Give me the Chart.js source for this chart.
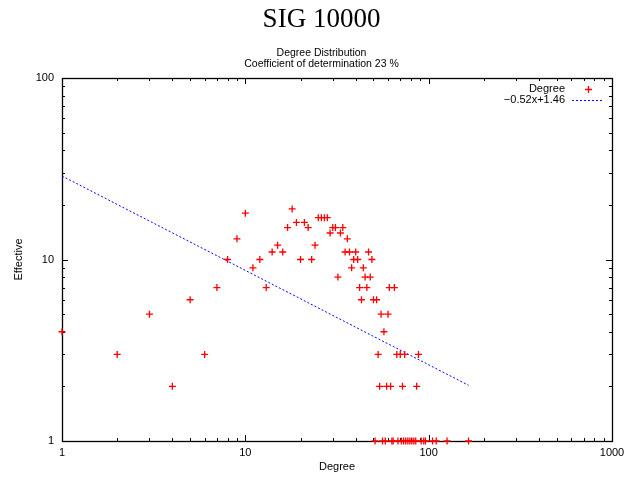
<!DOCTYPE html>
<html>
<head>
<meta charset="utf-8">
<script src="https://cdn.jsdelivr.net/npm/chart.js@4.4.1/dist/chart.umd.min.js"></script>
<style>
  html, body { margin: 0; padding: 0; background: #fff; }
  #wrap { width: 643px; height: 477px; }
</style>
</head>
<body>
<div id="wrap"><canvas id="c" width="643" height="477"></canvas></div>
<script>
// ---- data ----
const chartTitle = 'SIG 10000';
const subtitleLines = ['Degree Distribution', 'Coefficient of determination 23 %'];
const xAxisTitle = 'Degree';
const yAxisTitle = 'Effective';
const seriesLabel = 'Degree';
const fitLabel = '\u22120.52x+1.46';
const fitSlope = -0.52;
const fitIntercept = 1.46;

const degrees = [1,2,3,4,5,6,7,8,9,10,11,12,13,14,15,16,17,18,19,20,21,22,23,24,25,26,27,28,29,30,31,32,33,34,35,36,37,38,39,40,41,42,43,44,45,46,47,48,49,50,51,52,53,54,55,56,57,58,59,60,61,62,63,64,65,67,68,70,71,72,73,74,75,77,79,81,83,85,86,88,91,94,96,105,110,126,165];
const effective = [4,3,5,2,6,3,7,10,13,18,9,10,7,11,12,11,15,19,16,10,16,15,10,12,17,17,17,17,14,15,15,8,14,15,11,13,11,9,10,11,10,7,6,9,8,7,11,8,10,6,1,6,3,2,5,1,4,1,2,5,7,2,1,1,7,3,1,3,1,2,1,3,1,1,1,1,1,1,2,3,1,1,1,1,1,1,1];

const xMajorTicks = [1, 10, 100, 1000];
const yMajorTicks = [1, 10, 100];
const minorFactors = [2,3,4,5,6,7,8,9];

// build library structures
const points = degrees.map((d, i) => ({ x: d, y: effective[i] }));
const xMin = Math.min(...degrees), xMax = Math.max(...degrees);
const fitY = x => Math.pow(10, fitIntercept + fitSlope * Math.log10(x));
const fitPoints = [{ x: xMin, y: fitY(xMin) }, { x: xMax, y: fitY(xMax) }];

const SANS = "'Liberation Sans', Arial, sans-serif";
const RED = '#ff0000';
const BLUE = '#0000ff';

const frameAndTicks = {
  id: 'frameAndTicks',
  beforeDatasetsDraw(chart) {
    const { ctx, chartArea: a, scales: { x, y } } = chart;
    ctx.save();
    ctx.strokeStyle = '#000';
    ctx.lineWidth = 1;
    ctx.beginPath();
    const majL = 6, minL = 3;
    xMajorTicks.forEach((v, i) => {
      const ticks = [[v, majL]];
      if (i < xMajorTicks.length - 1) minorFactors.forEach(f => ticks.push([v * f, minL]));
      ticks.forEach(([t, L]) => {
        const px = Math.round(x.getPixelForValue(t)) + 0.5;
        ctx.moveTo(px, a.bottom); ctx.lineTo(px, a.bottom - L);
        ctx.moveTo(px, a.top); ctx.lineTo(px, a.top + L);
      });
    });
    yMajorTicks.forEach((v, i) => {
      const ticks = [[v, majL]];
      if (i < yMajorTicks.length - 1) minorFactors.forEach(f => ticks.push([v * f, minL]));
      ticks.forEach(([t, L]) => {
        const py = Math.round(y.getPixelForValue(t)) + 0.5;
        ctx.moveTo(a.left, py); ctx.lineTo(a.left + L, py);
        ctx.moveTo(a.right, py); ctx.lineTo(a.right - L, py);
      });
    });
    ctx.stroke();
    ctx.lineWidth = 1.3;
    ctx.strokeRect(Math.round(a.left) + 0.5, Math.round(a.top) + 0.5,
                   Math.round(a.right - a.left), Math.round(a.bottom - a.top));
    ctx.restore();
  },
  afterDraw(chart) {
    const { ctx, chartArea: a } = chart;
    const ds = chart.data.datasets;
    ctx.save();
    ctx.font = '11px ' + SANS;
    ctx.fillStyle = '#000';
    ctx.textAlign = 'right';
    ctx.textBaseline = 'middle';
    const textRight = a.right - 47;
    const sampleL = a.right - 40, sampleR = a.right - 8;
    const rows = [a.top + 11, a.top + 22];
    ctx.fillText(ds[0].label, textRight, rows[0]);
    ctx.fillText(ds[1].label, textRight, rows[1]);
    const cx = Math.round((sampleL + sampleR) / 2) + 0.5, cy = Math.round(rows[0]) + 0.5;
    ctx.strokeStyle = RED;
    ctx.lineWidth = 1.3;
    ctx.beginPath();
    ctx.moveTo(cx - 3.5, cy); ctx.lineTo(cx + 3.5, cy);
    ctx.moveTo(cx, cy - 3.5); ctx.lineTo(cx, cy + 3.5);
    ctx.stroke();
    ctx.strokeStyle = BLUE;
    ctx.lineWidth = 1;
    ctx.setLineDash([2, 2]);
    ctx.beginPath();
    ctx.moveTo(sampleL, Math.round(rows[1]) + 0.5);
    ctx.lineTo(sampleR, Math.round(rows[1]) + 0.5);
    ctx.stroke();
    ctx.restore();
  }
};

new Chart(document.getElementById('c'), {
  type: 'scatter',
  data: {
    datasets: [
      {
        label: seriesLabel,
        data: points,
        pointStyle: 'cross',
        pointRadius: 3.5,
        pointHoverRadius: 3.5,
        pointBorderColor: RED,
        pointBackgroundColor: RED,
        borderColor: RED,
        backgroundColor: RED,
        pointBorderWidth: 1.3,
        borderWidth: 1.3,
        clip: false,
        order: 1
      },
      {
        type: 'line',
        label: fitLabel,
        data: fitPoints,
        borderColor: BLUE,
        borderWidth: 1,
        borderDash: [2, 2],
        pointRadius: 0,
        fill: false,
        tension: 0,
        order: 2
      }
    ]
  },
  options: {
    responsive: false,
    animation: false,
    devicePixelRatio: 1,
    events: [],
    layout: { padding: 0 },
    plugins: {
      legend: { display: false },
      tooltip: { enabled: false },
      title: {
        display: true,
        text: chartTitle,
        color: '#000',
        font: { family: "'Liberation Serif', 'Times New Roman', serif", size: 27, weight: 'normal', lineHeight: 1.2 },
        padding: { top: 4, bottom: 4 }
      },
      subtitle: {
        display: true,
        text: subtitleLines,
        color: '#000',
        font: { family: SANS, size: 10.5, weight: 'normal', lineHeight: 1.1 },
        padding: { top: 6.5, bottom: 8 }
      }
    },
    scales: {
      x: {
        type: 'logarithmic',
        min: 1,
        max: 1000,
        grid: { display: false, drawTicks: false },
        border: { display: false },
        afterBuildTicks: s => { s.ticks = xMajorTicks.map(v => ({ value: v })); },
        afterFit: s => { s.height = 36; },
        ticks: {
          color: '#000',
          font: { family: SANS, size: 11 },
          padding: 5,
          maxRotation: 0,
          autoSkip: false,
          callback: v => String(v)
        },
        title: {
          display: true,
          text: xAxisTitle,
          color: '#000',
          font: { family: SANS, size: 11, lineHeight: 1.2 },
          padding: { top: 0, bottom: 3.4 }
        }
      },
      y: {
        type: 'logarithmic',
        min: 1,
        max: 100,
        grid: { display: false, drawTicks: false },
        border: { display: false },
        afterBuildTicks: s => { s.ticks = yMajorTicks.map(v => ({ value: v })); },
        afterFit: s => { s.width = 62; },
        ticks: {
          color: '#000',
          font: { family: SANS, size: 11 },
          padding: 8,
          autoSkip: false,
          callback: v => String(v)
        },
        title: {
          display: true,
          text: yAxisTitle,
          color: '#000',
          font: { family: SANS, size: 11, lineHeight: 1.2 },
          padding: { top: 12.4, bottom: 0 }
        }
      },
      yRight: {
        type: 'logarithmic',
        position: 'right',
        min: 1,
        max: 100,
        display: true,
        grid: { display: false, drawTicks: false },
        border: { display: false },
        ticks: { display: false },
        afterFit: s => { s.width = 31; }
      }
    }
  },
  plugins: [frameAndTicks]
});
</script>
</body>
</html>
